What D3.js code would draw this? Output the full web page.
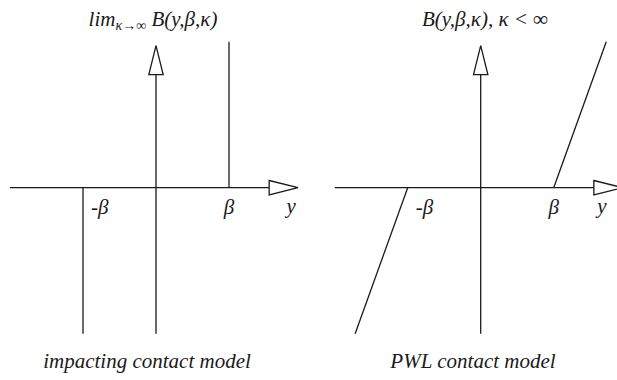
<!DOCTYPE html>
<html>
<head>
<meta charset="utf-8">
<script src="https://cdn.jsdelivr.net/npm/d3@7/dist/d3.min.js"></script>
<style>
  html, body { margin: 0; padding: 0; background: #fff; }
</style>
</head>
<body>
<svg id="chart" width="617" height="380"></svg>
<script>
// Panel captions and titles
const captions = ["impacting contact model", "PWL contact model"];
const titleMain = ["B(y,β,κ)", "B(y,β,κ), κ < ∞"];
const titlePrefix = ["lim", ""];
const titleSub = ["κ→∞", ""];

// Axis tick labels at ±β and the axis name
const tickValues = [-1, 1];
const tickLabels = ["-β", "β"];
const axisName = "y";
const axisNamePos = [1.85, 1.66];

// Shared data domain (β = 1) and axis extents
const domain = [-2, 2];
const axisStart = -2;
const axisTip = 1.945;
const arrowBase = 1.55;

// Impacting model: vertical walls at y = ±β
const impactWalls = [
  [{ y: 1, B: 0 }, { y: 1, B: 2 }],
  [{ y: -1, B: 0 }, { y: -1, B: -2 }]
];
// Piecewise-linear model: finite-stiffness slopes beyond ±β
const pwlWalls = [
  [{ y: 1, B: 0 }, { y: 1.72, B: 2 }],
  [{ y: -1, B: 0 }, { y: -1.72, B: -2 }]
];
const panelWalls = [impactWalls, pwlWalls];

const FONT = "'Liberation Serif', 'Times New Roman', Tinos, 'Nimbus Roman', 'DejaVu Serif', serif";
const svg = d3.select("#chart")
  .attr("font-family", FONT)
  .attr("font-style", "italic");
const ink = "#1a1a1a";
const centers = [156, 480.7];
const half = 146;

centers.forEach((cx, i) => {
  const x = d3.scaleLinear().domain(domain).range([cx - half, cx + half]);
  const y = d3.scaleLinear().domain(domain).range([187.7 + half, 187.7 - half]);
  const g = svg.append("g");

  const line = d3.line().x(d => x(d.y)).y(d => y(d.B));

  // horizontal axis
  g.append("path")
    .attr("d", line([{ y: axisStart, B: 0 }, { y: arrowBase, B: 0 }]))
    .attr("stroke", ink).attr("stroke-width", 1.3).attr("fill", "none");
  // vertical axis
  g.append("path")
    .attr("d", line([{ y: 0, B: -2 }, { y: 0, B: arrowBase }]))
    .attr("stroke", ink).attr("stroke-width", 1.3).attr("fill", "none");

  // open arrowheads
  const hw = 7.2;
  g.append("polygon")
    .attr("points", [[x(arrowBase), y(0) - hw], [x(axisTip), y(0)], [x(arrowBase), y(0) + hw]].join(" "))
    .attr("fill", "#fff").attr("stroke", ink).attr("stroke-width", 1.3);
  g.append("polygon")
    .attr("points", [[x(0) - hw, y(arrowBase)], [x(0), y(axisTip)], [x(0) + hw, y(arrowBase)]].join(" "))
    .attr("fill", "#fff").attr("stroke", ink).attr("stroke-width", 1.3);

  // characteristic curve
  panelWalls[i].forEach(seg => {
    g.append("path")
      .attr("d", line(seg))
      .attr("stroke", ink).attr("stroke-width", 1.3).attr("fill", "none");
  });

  // tick labels
  tickValues.forEach((v, k) => {
    g.append("text")
      .attr("x", v < 0 ? x(v) + 8 : x(v))
      .attr("y", 214)
      .attr("text-anchor", v < 0 ? "start" : "middle")
      .attr("font-size", 21)
      .attr("fill", ink)
      .text(tickLabels[k]);
  });
  g.append("text")
    .attr("x", x(axisNamePos[i])).attr("y", 213)
    .attr("text-anchor", "middle").attr("font-size", 21)
    .attr("fill", ink)
    .text(axisName);

  // title
  const t = g.append("text")
    .attr("x", i === 0 ? 153 : 485).attr("y", 26)
    .attr("text-anchor", "middle").attr("font-size", 21)
    .attr("fill", ink);
  if (titlePrefix[i]) {
    t.append("tspan").text(titlePrefix[i]);
    t.append("tspan").attr("font-size", 14).attr("dy", 4).text(titleSub[i]);
    t.append("tspan").attr("dy", -4).text(" " + titleMain[i]);
  } else {
    t.text(titleMain[i]);
  }

  // caption
  g.append("text")
    .attr("x", i === 0 ? 147 : 473).attr("y", 368)
    .attr("text-anchor", "middle").attr("font-size", 21)
    .attr("fill", ink)
    .text(captions[i]);
});
</script>
</body>
</html>
